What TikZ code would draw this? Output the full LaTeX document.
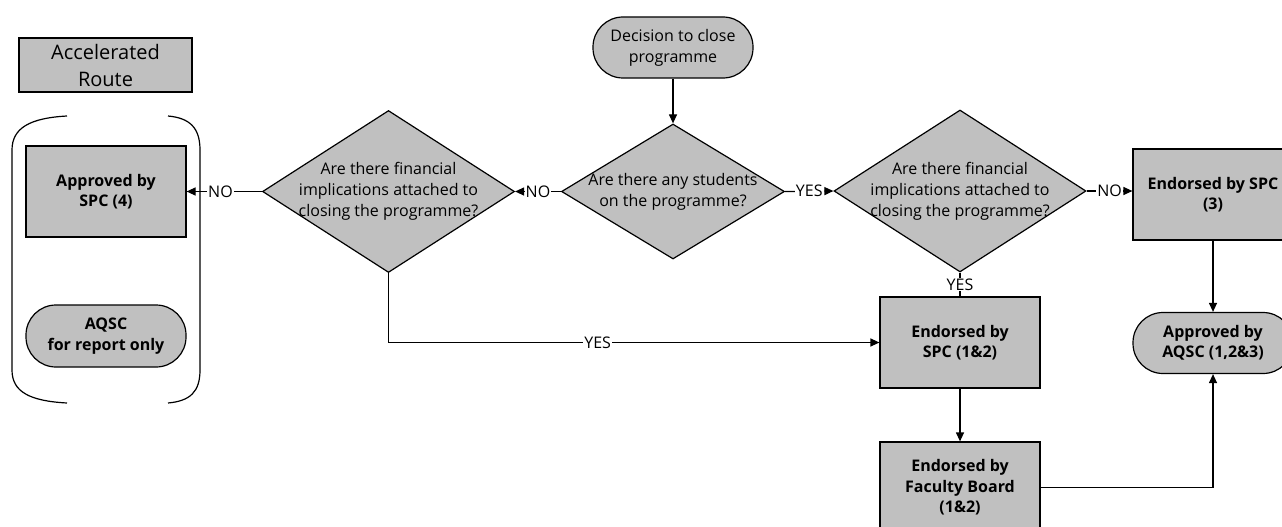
\documentclass[tikz,border=0pt]{standalone}
\usepackage{fontspec}
\setmainfont{Open Sans}
\usetikzlibrary{shapes.geometric,arrows.meta}
\definecolor{boxgray}{RGB}{192,192,192}
\begin{document}
\begin{tikzpicture}[x=1pt,y=-1pt,
  base/.style={draw=black, line width=1.2pt, fill=boxgray, align=center, inner sep=0pt},
  regtext/.style={font=\fontsize{16}{20.8}\selectfont},
  boldtext/.style={font=\bfseries\fontsize{16}{20.5}\selectfont},
  procbox/.style={base, boldtext, minimum width=160pt, minimum height=91pt},
  termbox/.style={base, rounded corners=30pt, minimum width=160pt, minimum height=61pt},
  decide/.style={base, diamond, minimum width=252pt, minimum height=162pt},
  dtext/.style={align=center, regtext, inner sep=0pt},
  conn/.style={line width=1.2pt, -{Triangle[length=9pt,width=8pt]}},
  plain/.style={line width=1.2pt},
  lbl/.style={fill=white, inner sep=1pt, regtext}
]
\useasboundingbox (0,0) rectangle (1282,527);

% Accelerated route area
\node[base, minimum width=173pt, minimum height=54pt, font=\fontsize{20}{27}\selectfont] (acc) at (105.5,65) {Accelerated\\Route};
\draw[plain] (67,116) .. controls (30,118) and (12,128) .. (12,150) -- (12,370) .. controls (12,392) and (30,401) .. (67,403);
\draw[plain] (168,116) .. controls (190,118) and (200,128) .. (200,150) -- (200,370) .. controls (200,392) and (190,401) .. (168,403);
\node[procbox] (spc4) at (106,191.5) {Approved by\\SPC (4)};
\node[termbox, boldtext, minimum height=62pt] (aqscr) at (106,336) {AQSC\\for report only};

% main flow
\node[termbox, regtext] (start) at (673,47.5) {Decision to close\\programme};
\node[decide, minimum width=223pt, minimum height=135pt,
  label={[dtext]center:Are there any students\\on the programme?}] (dmid) at (673,191.5) {};
\node[decide, label={[dtext]center:Are there financial\\implications attached to\\closing the programme?}] (dleft) at (388.5,191.5) {};
\node[decide, label={[dtext]center:Are there financial\\implications attached to\\closing the programme?}] (dright) at (960,191) {};
\node[procbox] (spc3) at (1213,194.5) {Endorsed by SPC\\(3)};
\node[termbox, boldtext] (aqsc) at (1213,343) {Approved by\\AQSC (1,2\&3)};
\node[procbox] (spc12) at (960,342.5) {Endorsed by\\SPC (1\&2)};
\node[procbox] (fb) at (960,487.5) {Endorsed by\\Faculty Board\\(1\&2)};

% connectors
\draw[conn] (start) -- (dmid);
\draw[conn] (dmid.west) -- node[lbl]{NO} (dleft.east);
\draw[conn] (dleft.west) -- node[lbl, pos=0.55]{NO} (spc4.east);
\draw[conn] (dmid.east) -- node[lbl]{YES} (dright.west);
\draw[conn] (dright.east) -- node[lbl]{NO} (dright.east -| spc3.west);
\draw[plain] (dright.south) -- node[lbl]{YES} (spc12.north);
\draw[conn] (dleft.south) |- node[lbl, pos=0.713]{YES} (spc12.west);
\draw[conn] (spc12) -- (fb);
\draw[conn] (spc3) -- (aqsc);
\draw[conn] (fb.east) -| (aqsc.south);
\end{tikzpicture}
\end{document}
